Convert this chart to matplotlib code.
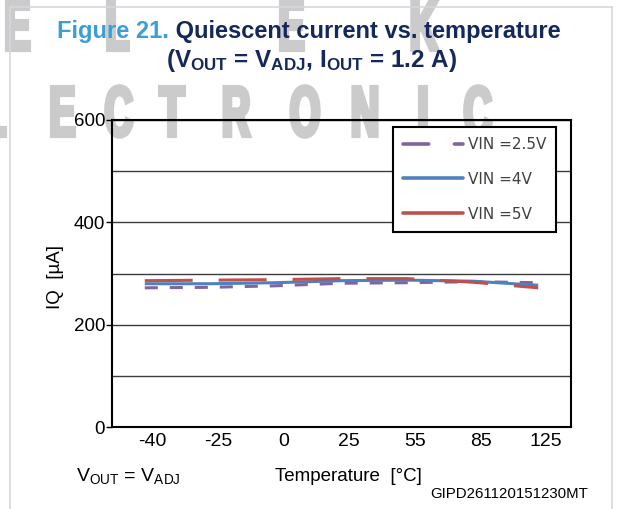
import numpy as np
import matplotlib
matplotlib.use("Agg")
import matplotlib.pyplot as plt
from matplotlib.lines import Line2D
from matplotlib.patches import PathPatch
from matplotlib.textpath import TextPath
from matplotlib.font_manager import FontProperties
from matplotlib.transforms import Affine2D, IdentityTransform

# Data
temps = ['-40', '-25', '0', '25', '55', '85', '125']
iq_vin_2v5 = [272, 273, 276, 281, 282, 284, 282]
iq_vin_4v = [280, 280, 282, 286, 287, 285, 277]
iq_vin_5v = [286, 287, 288, 290, 290, 283, 272]
series_labels = ['VIN =2.5V', 'VIN =4V', 'VIN =5V']

plt.rcParams['font.family'] = ['Liberation Sans', 'DejaVu Sans']
plt.rcParams['mathtext.default'] = 'regular'
plt.rcParams['lines.scale_dashes'] = False

W, H = 617, 509
fig = plt.figure(figsize=(W / 100, H / 100), dpi=100)
fig.patch.set_facecolor('white')


def px(x, y):
    """Pixel position (from top-left) to figure fraction."""
    return x / W, 1 - y / H


# Watermark letters drawn behind everything
wm_prop = FontProperties(family='Liberation Sans', weight='bold')


def add_letter(ch, cx, bottom, height=51, sx=0.55):
    tp = TextPath((0, 0), ch, size=100, prop=wm_prop)
    ext = tp.get_extents()
    k = height / 71.6
    t = (Affine2D().translate(-(ext.x0 + ext.x1) / 2, 0)
         .scale(k * sx, k).translate(cx, H - bottom))
    patch = PathPatch(t.transform_path(tp), transform=IdentityTransform(),
                      facecolor='#cbcbcb', edgecolor='#cbcbcb', lw=3.0,
                      zorder=-2)
    fig.add_artist(patch)


for ch, cx in [('E', 18), ('L', 118), ('E', 292), ('K', 425)]:
    add_letter(ch, cx, 50)
for ch, cx in [('L', -5), ('E', 63), ('C', 119), ('T', 172), ('R', 237),
               ('O', 305), ('N', 365), ('I', 423), ('C', 478)]:
    add_letter(ch, cx, 136)

# Light frame around the figure
frame_kw = dict(transform=fig.transFigure, color='#d3d9e0', lw=1.2, zorder=-1)
fig.add_artist(Line2D([10 / W, 10 / W], [0, 1 - 7 / H], **frame_kw))
fig.add_artist(Line2D([10 / W, 612 / W], [1 - 7 / H, 1 - 7 / H], **frame_kw))
fig.add_artist(Line2D([612 / W, 612 / W], [0, 1 - 7 / H], **frame_kw))

# Plot area
ax = fig.add_axes([112 / W, (H - 427) / H, (571 - 112) / W, (427 - 120) / H])
ax.set_facecolor('none')

x = np.arange(len(temps))
ax.plot(x, iq_vin_2v5, color='#8064a2', lw=2.2, dashes=(9.4, 8.6),
        dash_capstyle='butt', zorder=3)
ax.plot(x, iq_vin_4v, color='#4f81bd', lw=2.2, solid_capstyle='butt', zorder=4)
ax.plot(x, iq_vin_5v, color='#c0504d', lw=2.2, dashes=(34.5, 18.7),
        dash_capstyle='butt', zorder=5)

ax.set_xlim(-0.5, len(temps) - 0.5)
ax.set_ylim(0, 600)
ax.set_yticks([0, 200, 400, 600])
ax.set_yticks([100, 300, 500], minor=True)
ax.set_xticks(x + 0.12, temps)
ax.grid(True, axis='y', which='both', color='#3c3c3c', lw=1.0)
ax.set_axisbelow(True)
ax.tick_params(axis='y', which='major', direction='out', length=4, width=1,
               labelsize=13.5, pad=1)
ax.tick_params(axis='y', which='minor', length=0)
ax.tick_params(axis='x', length=0, labelsize=14, pad=4)
for side in ['left', 'right', 'top', 'bottom']:
    ax.spines[side].set_linewidth(1.5)
    ax.spines[side].set_color('black')

# Legend with handles as drawn in the reference
handles = [
    Line2D([], [], color='#8064a2', lw=2.6, dashes=(18.5, 18.5),
           dash_capstyle='round'),
    Line2D([], [], color='#4f81bd', lw=2.6, solid_capstyle='round'),
    Line2D([], [], color='#c0504d', lw=2.6, solid_capstyle='round'),
]
leg = fig.legend(handles, series_labels, loc='upper left',
                 bbox_to_anchor=px(393, 127), borderaxespad=0,
                 fancybox=False, framealpha=1, edgecolor='black',
                 prop=FontProperties(family='DejaVu Sans', size=11),
                 handlelength=3.9, handletextpad=0.35, labelspacing=1.3,
                 borderpad=0.65, labelcolor='#404040')
leg.get_frame().set_linewidth(1.5)

# Titles
navy = '#14295a'
t1 = fig.text(*px(57, 38), 'Figure 21.', color='#3a9fd6', fontsize=17,
              weight='bold', ha='left', va='baseline')
ax.annotate(' Quiescent current vs. temperature', xy=(1, 0), xycoords=t1,
            ha='left', va='bottom', color=navy, fontsize=17, weight='bold',
            annotation_clip=False)
fig.text(*px(311, 67), r'(V$_{OUT}$ = V$_{ADJ}$, I$_{OUT}$ = 1.2 A)',
         color=navy, fontsize=17.5, weight='bold', ha='center', va='baseline')

# Axis labels and notes
fig.text(*px(56, 277), 'IQ  [µA]', rotation=90, fontsize=13.5,
         ha='center', va='center')
fig.text(*px(76, 481), r'V$_{OUT}$ = V$_{ADJ}$', fontsize=14,
         ha='left', va='baseline')
fig.text(*px(348, 481), 'Temperature  [°C]', fontsize=13.5,
         ha='center', va='baseline')
fig.text(*px(588, 498), 'GIPD261120151230MT', fontsize=10.8,
         ha='right', va='baseline')

fig.savefig('out.png', dpi=100)
